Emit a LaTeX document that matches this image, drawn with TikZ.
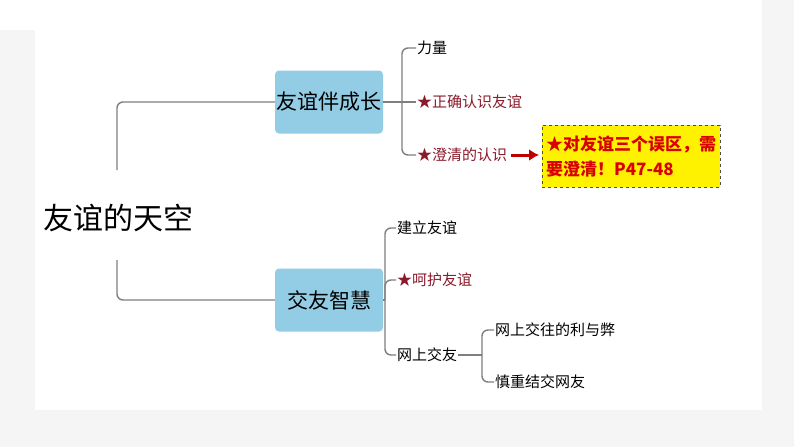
\documentclass[tikz,border=0pt]{standalone}
\usepackage{fontspec}
\setmainfont{Noto Sans CJK SC}
\usetikzlibrary{arrows.meta}
\definecolor{boxblue}{HTML}{92CDE5}
\definecolor{dred}{HTML}{8B1A2B}
\definecolor{ln}{HTML}{7F7F7F}
\tikzset{
 topic/.style={fill=boxblue,rounded corners=4pt,minimum width=108pt,minimum height=63pt,font=\fontsize{21}{24}\selectfont,inner sep=0pt},
 leaf/.style={anchor=west,font=\fontsize{15}{18}\selectfont,inner sep=1pt},
 star/.style={leaf,text=dred},
 conn/.style={draw=ln,line width=1.4pt,rounded corners=6pt},
}
\begin{document}
\begin{tikzpicture}[x=1pt,y=-1pt]
\fill[gray!8] (0,0) rectangle (794,447);
\fill[white] (35,0) rectangle (762,410);
\fill[white] (0,0) rectangle (35,30);
\useasboundingbox (0,0) rectangle (794,447);
\node[anchor=west,font=\fontsize{30}{36}\selectfont,inner sep=0pt] (root) at (43,218) {友谊的天空};
\node[topic] (b1) at (329,102) {友谊伴成长};
\node[topic] (b2) at (329,300) {交友智慧};
\coordinate (rt) at (117,170);
\coordinate (rb) at (117,260);
\draw[conn] (rt) |- (b1.west);
\draw[conn] (rb) |- (b2.west);
\node[leaf] (l1) at (416,48) {力量};
\node[star] (l2) at (416,102) {★正确认识友谊};
\node[star] (l3) at (416,155) {★澄清的认识};
\draw[conn] (b1.east) -- (402,102) coordinate (j1);
\draw[conn] (l1.west) -| (j1) |- (l3.west);
\draw[conn] (j1) -- (l2.west);
\node[draw=black!70,dashed,fill=yellow,anchor=north west,minimum width=178pt,minimum height=62pt,align=left,text=red!85!black,font=\bfseries\fontsize{17}{25}\selectfont] (note) at (542,125) {★对友谊三个误区，需\\要澄清！P47-48};
\draw[-{Latex[length=10pt,width=12pt]},draw=red!75!black,line width=3pt] ([xshift=3pt]l3.east) -- ([xshift=-3pt]note.west|-l3.east);
\node[leaf] (m1) at (396,228) {建立友谊};
\node[star] (m2) at (396,280) {★呵护友谊};
\node[leaf] (m3) at (396,355) {网上交友};
\draw[conn] (m1.west) -| (385,300) coordinate (j2) |- (m3.west);
\draw[conn] (b2.east) -- (j2);
\draw[conn] (j2) |- (m2.west);
\node[leaf] (n1) at (494,330) {网上交往的利与弊};
\node[leaf] (n2) at (494,382) {慎重结交网友};
\draw[conn] (m3.east) -- (482,355) coordinate (j3);
\draw[conn] (n1.west) -| (j3) |- (n2.west);
\end{tikzpicture}
\end{document}
